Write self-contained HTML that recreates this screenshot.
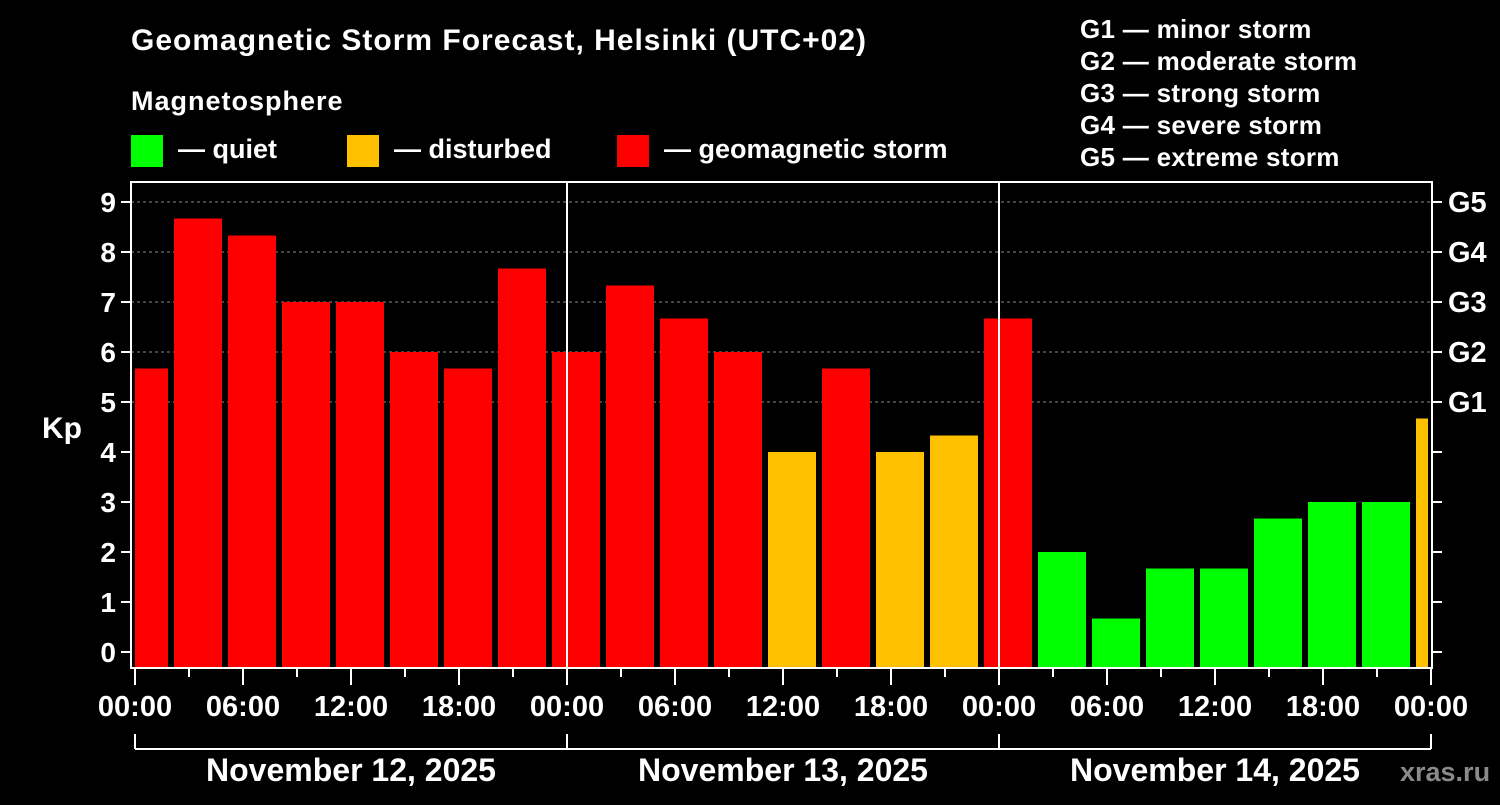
<!DOCTYPE html>
<html><head><meta charset="utf-8"><style>
body{margin:0;background:#000;width:1500px;height:800px;overflow:hidden}
svg text{font-family:"Liberation Sans",sans-serif;font-weight:bold;fill:#fff}
</style></head><body>
<svg id="chart" width="1500" height="800" viewBox="0 0 1500 800">
<rect width="1500" height="800" fill="#000"/>
<text x="131" y="50" font-size="30" letter-spacing="1">Geomagnetic Storm Forecast, Helsinki (UTC+02)</text>
<text x="131" y="110" font-size="27" letter-spacing="1">Magnetosphere</text>
<g>
<rect x="131" y="135" width="32" height="32" fill="#00ff00"/>
<text x="178" y="158" font-size="27">— quiet</text>
<rect x="347" y="135" width="32" height="32" fill="#ffc000"/>
<text x="394" y="158" font-size="27">— disturbed</text>
<rect x="617" y="135" width="32" height="32" fill="#ff0000"/>
<text x="664" y="158" font-size="27">— geomagnetic storm</text>
</g>
<g font-size="26" letter-spacing="0.3">
<text x="1080" y="38">G1 — minor storm</text>
<text x="1080" y="70">G2 — moderate storm</text>
<text x="1080" y="102">G3 — strong storm</text>
<text x="1080" y="134">G4 — severe storm</text>
<text x="1080" y="166">G5 — extreme storm</text>
</g>
<text x="42" y="438" font-size="30">Kp</text>
<text x="1400" y="781" font-size="27" style="fill:#8a8a8a">xras.ru</text>
<g id="grid"></g><g id="bars"></g><g id="axes"></g>
</svg>
<script>
const hours=[0.5,3.5,6.5,9.5,12.5,15.5,18.5,21.5,24.5,27.5,30.5,33.5,36.5,39.5,42.5,45.5,48.5,51.5,54.5,57.5,60.5,63.5,66.5,69.5,72.5];
const kp=[5.67,8.67,8.33,7,7,6,5.67,7.67,6,7.33,6.67,6,4,5.67,4,4.33,6.67,2,0.67,1.67,1.67,2.67,3,3,4.67];
const yTicks=[0,1,2,3,4,5,6,7,8,9];
const gLabels=["G1","G2","G3","G4","G5"];
const xLabels=["00:00","06:00","12:00","18:00","00:00","06:00","12:00","18:00","00:00","06:00","12:00","18:00","00:00"];
const dates=["November 12, 2025","November 13, 2025","November 14, 2025"];
const NS="http://www.w3.org/2000/svg";
const L=131,R=1432,T=182,B=668;
const x=h=>135+h*18;
const y=v=>652-v*50;
function mk(p,tag,a,txt){const e=document.createElementNS(NS,tag);for(const k in a)e.setAttribute(k,a[k]);if(txt!=null)e.textContent=txt;document.getElementById(p).appendChild(e);return e;}
const col=v=>v>=5?"#ff0000":(v>=4?"#ffc000":"#00ff00");
yTicks.forEach(v=>{
 if(v>=5){const g=mk("grid","line",{x1:L,x2:R,y1:y(v),y2:y(v),stroke:"#888","stroke-dasharray":"3,3"});
 
 }
 const t=mk("axes","line",{x1:121,x2:L,y1:y(v),y2:y(v),stroke:"#fff","stroke-width":2});
 
 
 const t2=mk("axes","line",{x1:R,x2:R+10,y1:y(v),y2:y(v),stroke:"#fff","stroke-width":2});
 
 
 const l=mk("axes","text",{x:116,y:y(v)+10,"font-size":28,"text-anchor":"end"},v);
 
 
});
gLabels.forEach((g,i)=>{const l=mk("axes","text",{x:1448,y:y(5+i)+10,"font-size":29},g);
 
 });
kp.forEach((v,i)=>{
 let x0=Math.max(x(hours[i]-1.5)+3,135),x1=Math.min(x(hours[i]+1.5)-3,1428);
 const r=mk("bars","rect",{x:x0,y:y(v),width:x1-x0,height:B-y(v),fill:col(v)});
 
 
});
[24,48].forEach(h=>{const d=mk("axes","line",{x1:x(h),x2:x(h),y1:T,y2:B,stroke:"#fff","stroke-width":2});
 
 });
const fr=mk("axes","rect",{x:L,y:T,width:R-L,height:B-T,fill:"none",stroke:"#fff","stroke-width":2});


for(let h=0;h<=72;h+=3){const major=h%6==0;
 const t=mk("axes","line",{x1:x(h),x2:x(h),y1:B,y2:major?685:677,stroke:"#fff","stroke-width":2});
 
 }
xLabels.forEach((s,i)=>{const l=mk("axes","text",{x:x(i*6),y:716,"font-size":29,"text-anchor":"middle"},s);
 
 });
const br=mk("axes","line",{x1:x(0),x2:x(72),y1:749,y2:749,stroke:"#fff","stroke-width":2});


[0,24,48,72].forEach(h=>{const t=mk("axes","line",{x1:x(h),x2:x(h),y1:734,y2:749,stroke:"#fff","stroke-width":2});
 
 });
dates.forEach((d,i)=>{const l=mk("axes","text",{x:x(i*24+12),y:781,"font-size":32,"text-anchor":"middle"},d);
 
 });
</script>
</body></html>
